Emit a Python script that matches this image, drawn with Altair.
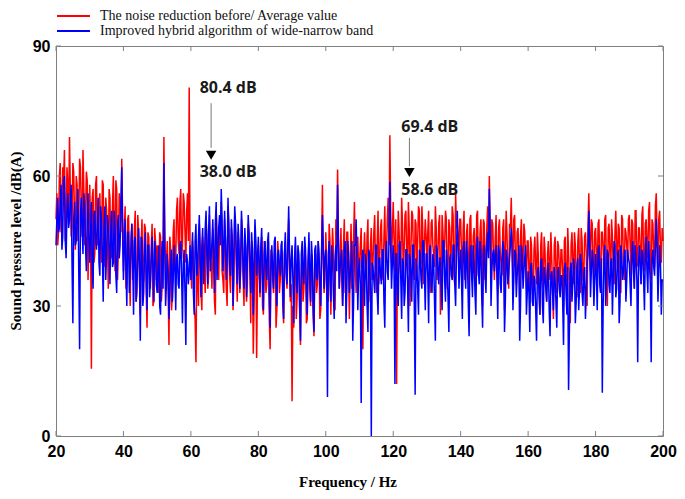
import altair as alt
import pandas as pd

# ---- data ----
# main rows: 0.5 Hz steps (f = 20 + 10*row + 0.5*i); mid rows: the samples in between (+0.25 Hz)
red_rows = [
    [50,44,60,47,62,66,48,58,69,46,63,50,60,45,64,52,66,44,61,36],
    [58,15.5,57,42,60,46,56,40,58,44,52,34,55,41,60,38,57,43,54,64],
    [38,53,35,51,30,49,39,52,33,47,28,50,36,48,25,46,34,49,31,45],
    [44,33,46,35,69,36,45,21,43,32,50,40,55,42,57,44,54,40,56,80.4],
    [38,45,30,17,37,49,33,46,38,50,34,51,39,48,31,52,40,49,54,36],
    [50,34,53,37,48,29,51,39,47,33,50,36,46,31,49,38,45,19,48,18],
    [44,32,46,28,43,35,45,20,42,33,44,29,41,36,43,26,45,34,50,31],
    [8,25,44,32,40,21,43,34,41,27,45,30,39,23,42,35,40,29,58,33],
    [47,35,49,28,48,37,50,61.5,34,48,30,50,38,47,27,49,36,54,33,46],
    [39,48,20,47,37,50,35,48,40,51,33,52,41,50,36,53,42,55,69.4,40],
    [54,38,12,52,40,55,36,51,42,54,30,52,41,50,37,53,39,53,35,50],
    [40,52,33,50,42,53,36,49,28,51,41,52,34,50,39,53,37,56,49,40],
    [50,36,52,39,49,32,51,40,48,34,52,38,50,30,49,41,53,60,37,49],
    [36,51,33,50,40,48,29,52,38,49,55,37,51,35,48,31,50,39,47,34],
    [45,33,44,30,46,35,42,28,47,34,43,31,45,36,41,27,46,33,44,35],
    [43,30,46,34,42,26,47,35,44,32,48,33,45,36,47,30,56,38,49,34],
    [48,36,50,33,47,38,51,30,49,37,46,35,52,39,48,33,50,36,47,40],
    [51,37,49,34,52,40,48,35,53,38,50,41,54,36,49,39,56,37,52,40],
]
red_mid_rows = [
    [56,47,63,52,59,45,62,50,57,48,61,43,58,49,62,46,57,51,59,47],
    [49,55,40,58,44,53,47,59,39,55,46,57,42,53,48,59,36,56,47,51],
    [47,34,50,41,46,36,48,31,51,37,45,35,49,33,47,38,44,30,48,36],
    [38,47,31,44,48,40,34,46,29,47,38,52,45,54,41,56,47,52,45,43],
    [34,42,27,40,30,44,29,43,33,46,37,41,34,45,28,47,36,44,38,33],
    [45,30,49,33,44,36,47,31,42,38,46,30,43,35,47,26,40,31,43,36],
    [38,42,30,45,33,40,27,43,36,41,25,45,33,40,30,42,37,44,38,35],
    [30,39,27,43,29,37,31,44,26,40,34,42,28,39,33,45,27,42,40,36],
    [40,31,45,38,43,29,44,46,40,36,44,33,47,39,41,34,46,40,44,38],
    [44,33,42,40,46,31,44,36,47,39,45,35,48,38,46,40,50,44,52,47],
    [45,50,41,47,37,49,43,52,38,48,43,51,36,49,45,52,40,48,44,46],
    [47,38,49,44,39,48,42,51,37,47,44,50,38,48,43,51,35,48,46,50],
    [42,48,36,47,41,50,38,46,43,51,37,47,42,50,36,48,43,45,50,41],
    [46,39,48,42,37,50,43,46,34,48,44,50,40,47,42,46,38,49,41,45],
    [38,46,35,43,39,47,33,44,38,46,35,42,39,47,34,44,38,45,39,43],
    [37,45,35,48,36,44,40,47,37,45,39,48,36,46,42,48,46,50,41,47],
    [42,49,39,47,43,50,37,48,42,50,38,47,43,49,38,51,41,48,44,50],
    [44,50,41,52,39,48,43,51,40,49,44,52,38,50,42,53,45,50,43,48],
]
red_last = 45

blue_rows = [
    [44,55,48,58,46,60,41,56,50,58,26,54,45,57,20,55,42,53,38,56],
    [40,54,34,52,43,55,37,50,31,53,42,49,35,52,40,48,33,51,44,62],
    [36,50,30,47,38,49,28,46,35,48,22,45,33,47,29,44,36,46,31,43],
    [33,44,28,45,63,30,42,27,40,31,44,29,42,34,45,26,43,21,40,38],
    [36,47,28,49,39,51,32,48,40,52,35,53,41,50,33,54,42,51,57,38],
    [52,36,55,39,50,30,53,41,49,34,52,38,48,32,51,40,47,28,50,37],
    [46,33,48,29,45,36,47,25,44,34,46,30,43,37,45,27,47,35,53,32],
    [44,26,46,33,42,22,45,35,43,28,47,31,41,24,44,36,42,30,51,34],
    [43,9,45,31,42,27,44,58,34,41,30,43,26,45,33,40,22,44,50,29],
    [41,7.6,43,30,40,24,42,0,39,33,44,28,41,35,43,25,45,36,58.6,34],
    [44,12,42,30,45,27,40,33,43,24,41,31,44,9.5,39,28,42,34,45,29],
    [42,26,44,33,40,22,43,35,41,29,45,31,39,24,42,36,44,30,52,34],
    [43,27,45,34,41,23,44,32,40,28,46,35,42,25,44,33,47,57,30,42],
    [38,44,27,42,33,45,24,43,35,41,48,29,43,32,40,22,44,34,41,28],
    [38,24,40,30,36,22,39,28,41,26,37,31,40,23,38,29,36,25,39,32],
    [37,21,40,28,10.6,38,31,41,26,39,29,42,33,37,27,40,52,32,43,30],
    [42,29,44,33,10,41,30,43,35,40,28,45,32,42,26,44,36,41,31,43],
    [40,30,45,34,41,17,44,35,42,29,46,33,40,17,43,37,50,31,44,28],
]
blue_mid_rows = [
    [50,47,54,43,59,45,52,48,55,40,50,44,52,38,51,48,56,44,50,46],
    [47,38,51,45,49,40,53,42,48,36,51,44,47,39,52,37,49,41,54,47],
    [43,38,47,33,44,40,45,31,41,39,46,30,42,37,44,32,41,38,45,35],
    [39,30,41,34,44,35,38,33,43,36,39,41,35,44,37,40,33,42,35,44],
    [42,33,45,37,46,40,44,35,48,42,47,38,45,41,49,36,48,44,50,43],
    [45,41,48,37,46,42,49,35,45,40,47,34,44,41,46,33,43,39,45,41],
    [40,44,36,42,39,45,32,41,38,45,36,42,39,44,33,42,38,44,42,41],
    [36,41,38,44,30,42,37,46,33,40,38,45,30,43,37,45,35,42,44,41],
    [38,42,36,44,33,40,38,45,39,43,36,45,34,42,37,45,31,44,41,38],
    [35,40,36,42,30,43,34,40,36,44,33,41,37,43,31,42,38,45,44,40],
    [38,42,33,44,36,41,30,43,35,42,37,44,30,41,34,43,36,45,38,42],
    [37,43,35,42,31,44,38,41,34,45,36,43,32,41,37,44,35,42,44,40],
    [36,43,38,45,31,42,37,44,33,43,38,45,32,42,37,44,41,48,38,43],
    [41,37,44,35,40,43,31,41,38,44,43,36,42,37,44,30,42,38,44,33],
    [33,39,31,37,29,38,33,40,30,39,34,38,29,37,33,39,31,38,34,37],
    [31,38,33,39,25,40,35,39,31,41,34,40,30,39,33,42,44,38,40,36],
    [37,43,35,41,30,44,36,42,33,41,37,44,34,43,31,42,38,43,36,41],
    [35,42,38,44,36,40,39,43,36,42,38,45,35,41,39,44,43,38,40,36],
]
blue_last = 36


def merge(rows, mids, last):
    fs, vs = [], []
    for r, (a, b) in enumerate(zip(rows, mids)):
        for i in range(len(a)):
            f0 = 20 + 10 * r + 0.5 * i
            fs += [f0, f0 + 0.25]
            vs += [a[i], b[i]]
    fs.append(200.0)
    vs.append(last)
    return fs, vs


red_f, red_v = merge(red_rows, red_mid_rows, red_last)
blue_f, blue_v = merge(blue_rows, blue_mid_rows, blue_last)

x_ticks = [20, 40, 60, 80, 100, 120, 140, 160, 180, 200]
y_ticks = [0, 30, 60, 90]

legend_labels = ["The noise reduction before/ Average value",
                 "Improved hybrid algorithm of wide-narrow band"]
ann_text = ["80.4 dB", "38.0 dB", "69.4 dB", "58.6 dB"]
ann_f = [62.6, 62.6, 122.4, 122.4]
ann_v = [80.3, 60.9, 71.3, 56.8]
arrow_f = [66.0, 124.8]
arrow_top = [76.8, 68.8]
arrow_bot = [66.5, 62.3]
arrow_head = [64.8, 60.8]

W, H = 607, 390
xs = alt.Scale(domain=[20, 200], nice=False, zero=False)
ys = alt.Scale(domain=[0, 90], nice=False)

xaxis = alt.Axis(values=x_ticks, title=None, grid=False, domain=False, ticks=False,
                 labelFont="Liberation Sans", labelFontWeight="bold", labelFontSize=16,
                 labelColor="black", labelPadding=7, labelFlush=False, labelOverlap=False)
yaxis = alt.Axis(values=y_ticks, title=None, grid=False, domain=False, ticks=False,
                 labelFont="Liberation Sans", labelFontWeight="bold", labelFontSize=16,
                 labelColor="black", labelPadding=6, labelFlush=False, labelOverlap=False)

red_df = pd.DataFrame({"f": red_f, "v": red_v})
blue_df = pd.DataFrame({"f": blue_f, "v": blue_v})

LW = 1.5
red = alt.Chart(red_df).mark_line(color="#ff0000", strokeWidth=LW).encode(
    x=alt.X("f:Q", scale=xs, axis=xaxis), y=alt.Y("v:Q", scale=ys, axis=yaxis))
blue = alt.Chart(blue_df).mark_line(color="#0000ff", strokeWidth=LW).encode(
    x=alt.X("f:Q", scale=xs), y=alt.Y("v:Q", scale=ys))

xt = pd.DataFrame({"t": x_ticks})
yt = pd.DataFrame({"t": y_ticks})
tick_col = "#808080"
xt_bot = alt.Chart(xt).mark_rule(color=tick_col).encode(
    x=alt.X("t:Q", scale=xs), y=alt.value(H), y2=alt.value(H - 5))
xt_top = alt.Chart(xt).mark_rule(color=tick_col).encode(
    x=alt.X("t:Q", scale=xs), y=alt.value(0), y2=alt.value(5))
yt_left = alt.Chart(yt).mark_rule(color=tick_col).encode(
    y=alt.Y("t:Q", scale=ys), x=alt.value(0), x2=alt.value(5))
yt_right = alt.Chart(yt).mark_rule(color=tick_col).encode(
    y=alt.Y("t:Q", scale=ys), x=alt.value(W), x2=alt.value(W - 5))

# legend
leg_df = pd.DataFrame({"label": legend_labels})
leg_red_line = alt.Chart(leg_df.iloc[[0]]).mark_rule(color="#ff0000", strokeWidth=2).encode(
    x=alt.value(1), x2=alt.value(34), y=alt.value(-30))
leg_blue_line = alt.Chart(leg_df.iloc[[1]]).mark_rule(color="#0000ff", strokeWidth=2).encode(
    x=alt.value(1), x2=alt.value(34), y=alt.value(-15))
leg_red_txt = alt.Chart(leg_df.iloc[[0]]).mark_text(
    align="left", baseline="middle", font="Liberation Serif", fontSize=14, color="#111").encode(
    x=alt.value(44), y=alt.value(-30), text="label:N")
leg_blue_txt = alt.Chart(leg_df.iloc[[1]]).mark_text(
    align="left", baseline="middle", font="Liberation Serif", fontSize=14, color="#111").encode(
    x=alt.value(44), y=alt.value(-15), text="label:N")

# axis titles
ttl = pd.DataFrame({"t": ["Sound pressure level /dB(A)", "Frequency / Hz"]})
ytitle = alt.Chart(ttl.iloc[[0]]).mark_text(
    angle=270, align="center", baseline="middle", font="Liberation Serif",
    fontWeight="bold", fontSize=15, color="black").encode(
    x=alt.value(-40), y=alt.value(H / 2), text="t:N")
xtitle = alt.Chart(ttl.iloc[[1]]).mark_text(
    align="center", baseline="middle", font="Liberation Serif",
    fontWeight="bold", fontSize=15, color="black").encode(
    x=alt.value(292), y=alt.value(436), text="t:N")

# annotations
ann_df = pd.DataFrame({"f": ann_f, "v": ann_v, "t": ann_text})
ann = alt.Chart(ann_df).mark_text(
    align="left", baseline="middle", font="Open Sans", fontWeight="bold",
    fontSize=16, color="#1a1a1a").encode(
    x=alt.X("f:Q", scale=xs), y=alt.Y("v:Q", scale=ys), text="t:N")
arr_df = pd.DataFrame({"f": arrow_f, "top": arrow_top, "bot": arrow_bot, "head": arrow_head})
arr_line = alt.Chart(arr_df).mark_rule(color="#777777", strokeWidth=1).encode(
    x=alt.X("f:Q", scale=xs), y=alt.Y("top:Q", scale=ys), y2="bot:Q")
arr_head = alt.Chart(arr_df).mark_point(
    shape="triangle-down", filled=True, color="black", size=110, opacity=1).encode(
    x=alt.X("f:Q", scale=xs), y=alt.Y("head:Q", scale=ys))

chart = alt.layer(
    red, blue, xt_bot, xt_top, yt_left, yt_right,
    leg_red_line, leg_blue_line, leg_red_txt, leg_blue_txt,
    ytitle, xtitle, ann, arr_line, arr_head
).properties(
    width=W, height=H,
    autosize=alt.AutoSizeParams(type="none"),
    padding={"left": 48, "top": 38, "right": 14, "bottom": 55},
    background="white",
).configure_view(stroke="#808080", strokeWidth=1)

chart.save("out.html", embed_options={"renderer": "svg", "actions": False})
